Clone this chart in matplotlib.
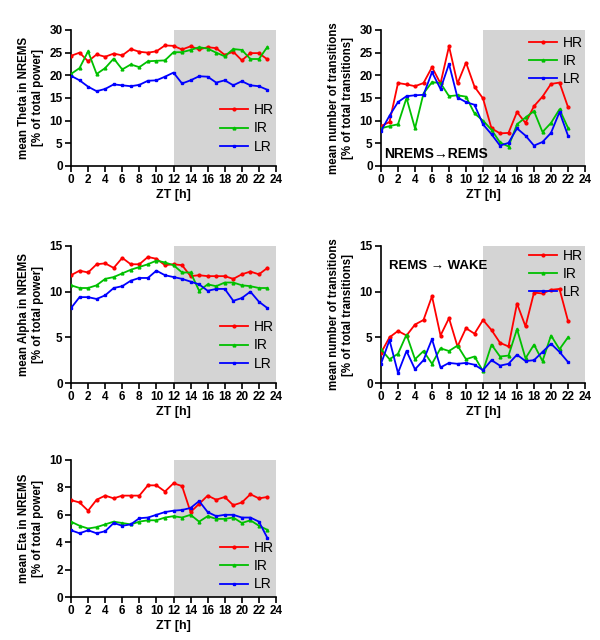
import matplotlib
matplotlib.use("Agg")
import matplotlib.pyplot as plt
import numpy as np

plt.rcParams['font.family'] = ['Liberation Sans', 'DejaVu Sans']

hours24 = list(range(24))
hours23 = list(range(23))

theta_hr = [24.3, 25.0, 23.1, 24.6, 24.1, 24.8, 24.4, 25.8, 25.2, 25.0, 25.3, 26.6, 26.5, 25.7, 26.4, 25.7, 26.2, 26.0, 24.5, 25.2, 23.3, 24.9, 24.9, 23.5]
theta_ir = [20.3, 21.6, 25.3, 20.3, 21.6, 23.7, 21.3, 22.4, 21.8, 23.1, 23.2, 23.3, 25.1, 25.1, 25.6, 26.2, 25.9, 25.0, 24.2, 25.8, 25.6, 23.6, 23.6, 26.3]
theta_lr = [19.9, 18.9, 17.5, 16.5, 17.0, 18.0, 17.8, 17.6, 17.9, 18.8, 18.9, 19.7, 20.6, 18.2, 18.9, 19.8, 19.7, 18.4, 18.9, 17.8, 18.7, 17.8, 17.6, 16.8]

nr_hr = [8.8, 9.7, 18.3, 18.0, 17.6, 18.3, 21.8, 18.2, 26.4, 18.2, 22.8, 17.5, 14.9, 8.3, 7.2, 7.3, 11.9, 9.5, 13.2, 15.3, 18.1, 18.4, 13.0]
nr_ir = [8.3, 8.8, 9.2, 15.0, 8.3, 16.0, 18.5, 18.3, 15.4, 15.6, 15.3, 11.6, 10.0, 8.0, 5.2, 4.3, 9.2, 10.7, 12.1, 7.5, 9.5, 12.5, 8.4]
nr_lr = [7.7, 11.1, 14.1, 15.4, 15.6, 15.7, 20.7, 17.0, 22.5, 15.1, 14.1, 13.5, 9.2, 7.0, 4.5, 5.1, 8.3, 6.7, 4.5, 5.3, 7.3, 11.9, 6.7]

alpha_hr = [11.8, 12.3, 12.1, 13.0, 13.1, 12.6, 13.7, 13.0, 13.0, 13.8, 13.6, 12.9, 13.0, 12.9, 11.7, 11.8, 11.7, 11.7, 11.7, 11.4, 11.9, 12.2, 11.9, 12.6]
alpha_ir = [10.7, 10.4, 10.4, 10.7, 11.4, 11.6, 12.0, 12.4, 12.7, 13.0, 13.4, 13.2, 12.9, 12.1, 12.1, 10.1, 10.8, 10.6, 11.0, 11.0, 10.7, 10.6, 10.4, 10.4]
alpha_lr = [8.2, 9.4, 9.4, 9.2, 9.6, 10.4, 10.6, 11.2, 11.5, 11.5, 12.3, 11.8, 11.6, 11.4, 11.1, 10.8, 10.1, 10.3, 10.3, 9.0, 9.3, 10.0, 8.9, 8.2]

rw_hr = [3.3, 5.0, 5.7, 5.2, 6.4, 6.9, 9.5, 5.2, 7.1, 4.0, 6.0, 5.4, 6.9, 5.8, 4.4, 4.0, 8.7, 6.2, 9.9, 9.8, 10.2, 10.3, 6.8]
rw_ir = [3.7, 2.6, 3.2, 5.3, 2.6, 3.5, 2.1, 3.8, 3.5, 4.1, 2.6, 2.9, 1.3, 4.2, 2.9, 3.0, 5.9, 2.7, 4.2, 2.4, 5.2, 3.7, 5.0]
rw_lr = [2.1, 4.7, 1.1, 3.5, 1.5, 2.5, 4.8, 1.7, 2.2, 2.1, 2.2, 2.0, 1.4, 2.5, 1.9, 2.1, 3.1, 2.4, 2.5, 3.4, 4.3, 3.4, 2.3]

eta_hr = [7.07, 6.9, 6.3, 7.1, 7.4, 7.2, 7.4, 7.4, 7.4, 8.15, 8.15, 7.7, 8.3, 8.1, 6.2, 6.8, 7.4, 7.1, 7.3, 6.7, 6.9, 7.5, 7.2, 7.3]
eta_ir = [5.5, 5.2, 5.0, 5.1, 5.3, 5.5, 5.4, 5.3, 5.5, 5.6, 5.6, 5.8, 5.9, 5.8, 6.0, 5.5, 5.9, 5.7, 5.7, 5.8, 5.4, 5.6, 5.2, 4.9]
eta_lr = [4.87, 4.65, 4.87, 4.65, 4.8, 5.4, 5.2, 5.3, 5.75, 5.8, 6.0, 6.2, 6.3, 6.35, 6.5, 7.0, 6.2, 5.9, 6.0, 6.0, 5.8, 5.8, 5.5, 4.3]

groups = ['HR', 'IR', 'LR']
colors = {'HR': '#ff0000', 'IR': '#00c000', 'LR': '#0000ff'}
markers = {'HR': 'o', 'IR': '^', 'LR': 's'}

W, H = 600, 640
fig = plt.figure(figsize=(6, 6.4), dpi=100)


def make_ax(x0, x1, y0, y1):
    return fig.add_axes([x0 / W, 1 - y1 / H, (x1 - x0) / W, (y1 - y0) / H])


def panel(ax, x, series, ymax, ystep, ylabel, legend_loc, legend_anchor):
    ax.axvspan(12, 24, color='#d4d4d4', lw=0, zorder=0)
    for g, vals in zip(groups, series):
        ax.plot(x, vals, color=colors[g], marker=markers[g], ms=2.0, lw=1.3,
                label=g, zorder=3)
    ax.set_xlim(0, 24)
    ax.set_ylim(0, ymax)
    ax.set_xticks(range(0, 25, 2))
    ax.set_yticks(np.arange(0, ymax + 0.01, ystep))
    ax.spines['top'].set_visible(False)
    ax.spines['right'].set_visible(False)
    for s in ('left', 'bottom'):
        ax.spines[s].set_linewidth(1.2)
    ax.tick_params(direction='out', length=4, width=1.2, labelsize=8.5, pad=2)
    for lab in ax.get_xticklabels() + ax.get_yticklabels():
        lab.set_fontweight('bold')
    ax.set_xlabel('ZT [h]', fontsize=9, fontweight='bold', labelpad=2)
    ax.set_ylabel(ylabel, fontsize=8.3, fontweight='bold', labelpad=4)
    ax.legend(loc=legend_loc, bbox_to_anchor=legend_anchor, frameon=False,
              fontsize=10, handlelength=2.0, labelspacing=0.3,
              handletextpad=0.4, borderaxespad=0.2)


ax1 = make_ax(71, 276, 30, 166)
panel(ax1, hours24, [theta_hr, theta_ir, theta_lr], 30, 5,
      'mean Theta in NREMS\n[% of total power]', 'lower right', (1.03, 0.03))

ax2 = make_ax(381, 585, 30, 166)
panel(ax2, hours23, [nr_hr, nr_ir, nr_lr], 30, 5,
      'mean number of transitions\n[% of total transitions]', 'upper right', (1.03, 1.02))
ax2.text(0.4, 1.0, 'NREMS\u2192REMS', fontsize=10, fontweight='bold', ha='left', va='bottom')

ax3 = make_ax(71, 276, 246, 383)
panel(ax3, hours24, [alpha_hr, alpha_ir, alpha_lr], 15, 5,
      'mean Alpha in NREMS\n[% of total power]', 'lower right', (1.03, 0.03))

ax4 = make_ax(381, 585, 246, 383)
panel(ax4, hours23, [rw_hr, rw_ir, rw_lr], 15, 5,
      'mean number of transitions\n[% of total transitions]', 'upper right', (1.03, 1.04))
ax4.text(0.9, 12.2, 'REMS \u2192 WAKE', fontsize=9.5, fontweight='bold', ha='left', va='bottom')

ax5 = make_ax(71, 276, 460, 597)
panel(ax5, hours24, [eta_hr, eta_ir, eta_lr], 10, 2,
      'mean Eta in NREMS\n[% of total power]', 'lower right', (1.03, -0.02))

fig.savefig('out.png', dpi=100)
